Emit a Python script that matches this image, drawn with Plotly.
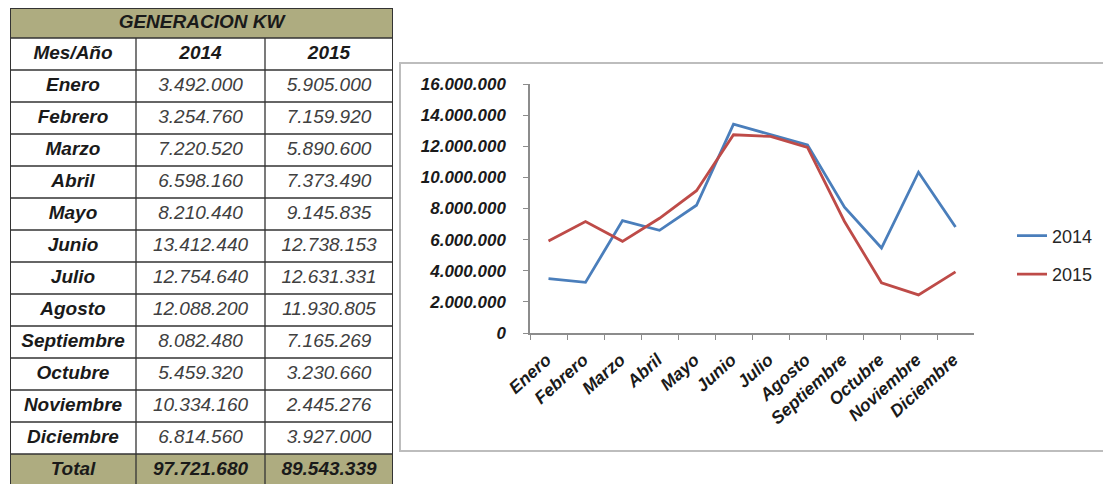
import plotly.graph_objects as go

meses = ["Enero", "Febrero", "Marzo", "Abril", "Mayo", "Junio", "Julio",
         "Agosto", "Septiembre", "Octubre", "Noviembre", "Diciembre"]
gen_2014 = [3492000, 3254760, 7220520, 6598160, 8210440, 13412440, 12754640,
            12088200, 8082480, 5459320, 10334160, 6814560]
gen_2015 = [5905000, 7159920, 5890600, 7373490, 9145835, 12738153, 12631331,
            11930805, 7165269, 3230660, 2445276, 3927000]
total_2014 = 97721680
total_2015 = 89543339
table_title = "GENERACION KW"
table_header = ["Mes/Año", "2014", "2015"]
total_label = "Total"
y_ticks = [0, 2000000, 4000000, 6000000, 8000000, 10000000, 12000000, 14000000, 16000000]

# page body has an 8px margin; figure fills the rest of the 1111x484 window
OFF = 8
W, H = 1111 - OFF, 484 - OFF
FONT = "Liberation Sans"
OLIVE = "#aeac80"
BLUE = "#4a7ebb"
RED = "#be4b48"
GRID = "#333333"


def px(x):
    return (x - OFF) / W


def py(y):
    return 1 - (y - OFF) / H


# table geometry (pixel units inside the table subplot)
COL_W = [126, 129, 128]
TITLE_H = 30
ROW_H = 32
TABLE_TOP = 8
TABLE_LEFT, TABLE_RIGHT = 10, 393


def fmt(v):
    return f"{v:,}".replace(",", ".")


n_body = 1 + len(meses) + 1  # header + months + total
row_edges = [0, TITLE_H]
for _ in range(n_body):
    row_edges.append(row_edges[-1] + ROW_H)
col_edges = [0]
for w in COL_W:
    col_edges.append(col_edges[-1] + w)
table_w = col_edges[-1]
table_vis_h = 484 - TABLE_TOP

row_c = [(row_edges[i] + row_edges[i + 1]) / 2 for i in range(len(row_edges) - 1)]
col_c = [(col_edges[i] + col_edges[i + 1]) / 2 for i in range(len(col_edges) - 1)]

fig = go.Figure()

# --- table: cell fills ---
z = []
for r in range(len(row_edges) - 1):
    olive = (r == 0) or (r == len(row_edges) - 2)
    z.append([1 if olive else 0] * len(COL_W))
fig.add_trace(go.Heatmap(
    x=col_edges, y=row_edges, z=z, zmin=0, zmax=1,
    colorscale=[[0, "white"], [1, OLIVE]], showscale=False,
    hoverinfo="skip", xaxis="x2", yaxis="y2",
))

# --- table: borders ---
bx, by = [], []
for i in range(1, len(row_edges) - 1):
    bx += [0, table_w, None]
    by += [row_edges[i], row_edges[i], None]
for j in range(1, len(col_edges) - 1):
    bx += [col_edges[j], col_edges[j], None]
    by += [row_edges[1], row_edges[-1], None]
fig.add_trace(go.Scatter(
    x=bx, y=by, mode="lines", line=dict(color=GRID, width=1.3),
    hoverinfo="skip", showlegend=False, cliponaxis=False, xaxis="x2", yaxis="y2",
))
fig.add_trace(go.Scatter(
    x=[0, table_w, table_w, 0, 0], y=[row_edges[-1], row_edges[-1], 0, 0, row_edges[-1]],
    mode="lines", line=dict(color=GRID, width=2),
    hoverinfo="skip", showlegend=False, cliponaxis=False, xaxis="x2", yaxis="y2",
))

# --- table: texts ---
bold_x, bold_y, bold_t = [table_w / 2], [row_c[0]], [table_title]
for j, h in enumerate(table_header):
    bold_x.append(col_c[j]); bold_y.append(row_c[1]); bold_t.append(h)
for i, m in enumerate(meses):
    bold_x.append(col_c[0]); bold_y.append(row_c[2 + i]); bold_t.append(m)
last = row_c[-1]
bold_x += [col_c[0], col_c[1], col_c[2]]
bold_y += [last, last, last]
bold_t += [total_label, fmt(total_2014), fmt(total_2015)]
fig.add_trace(go.Scatter(
    x=bold_x, y=bold_y, text=bold_t, mode="text", textposition="middle center",
    textfont=dict(family=FONT, size=19, color="#1a1a1a", weight="bold", style="italic"),
    hoverinfo="skip", showlegend=False, cliponaxis=False, xaxis="x2", yaxis="y2",
))
num_x, num_y, num_t = [], [], []
for i in range(len(meses)):
    num_x += [col_c[1], col_c[2]]
    num_y += [row_c[2 + i], row_c[2 + i]]
    num_t += [fmt(gen_2014[i]), fmt(gen_2015[i])]
fig.add_trace(go.Scatter(
    x=num_x, y=num_y, text=num_t, mode="text", textposition="middle center",
    textfont=dict(family=FONT, size=19, color="#404040", style="italic"),
    hoverinfo="skip", showlegend=False, cliponaxis=False, xaxis="x2", yaxis="y2",
))

# --- chart ---
fig.add_trace(go.Scatter(
    x=meses, y=gen_2014, mode="lines", name="2014",
    line=dict(color=BLUE, width=2.8), legendgroup="a",
))
fig.add_trace(go.Scatter(
    x=meses, y=gen_2015, mode="lines", name="2015",
    line=dict(color=RED, width=2.8), legendgroup="b",
))

fig.update_layout(
    width=W, height=H,
    margin=dict(l=0, r=0, t=0, b=0, autoexpand=False),
    paper_bgcolor="white", plot_bgcolor="white",
    font=dict(family=FONT, color="#1a1a1a"),
    showlegend=True,
    legend=dict(
        x=px(1012), y=py(255), xanchor="left", yanchor="middle",
        font=dict(family=FONT, size=18, color="#262626"),
        traceorder="grouped", tracegroupgap=12,
        bgcolor="rgba(0,0,0,0)",
    ),
    xaxis=dict(
        domain=[px(530), px(974)],
        range=[-0.5, len(meses) - 0.5],
        showgrid=False, showline=True, linecolor="#8c8c8c", linewidth=1.5,
        ticks="outside", tickson="boundaries", ticklen=5, tickcolor="#8c8c8c",
        tickangle=-42, ticklabelstandoff=8, ticklabelshift=-2,
        tickfont=dict(family=FONT, size=17.5, color="#1a1a1a", weight="bold", style="italic"),
        zeroline=False, fixedrange=True,
    ),
    yaxis=dict(
        domain=[py(333), py(84)],
        range=[0, 16000000],
        tickvals=y_ticks,
        ticktext=[fmt(v) for v in y_ticks],
        showgrid=False, showline=True, linecolor="#8c8c8c", linewidth=1.5,
        ticks="outside", ticklen=5, tickcolor="#8c8c8c", ticklabelstandoff=14,
        tickfont=dict(family=FONT, size=17, color="#1a1a1a", weight="bold", style="italic"),
        zeroline=False, fixedrange=True,
    ),
    xaxis2=dict(
        domain=[px(TABLE_LEFT), px(TABLE_RIGHT)], range=[0, table_w],
        visible=False, fixedrange=True,
    ),
    yaxis2=dict(
        domain=[0, py(TABLE_TOP)], range=[table_vis_h, 0],
        visible=False, fixedrange=True,
    ),
    shapes=[
        dict(type="rect", xref="paper", yref="paper",
             x0=px(400), x1=px(1108), y0=py(451), y1=py(63),
             line=dict(color="#bdbdbd", width=2), fillcolor="rgba(0,0,0,0)", layer="below"),
    ],
)

fig.write_html("out.html")
